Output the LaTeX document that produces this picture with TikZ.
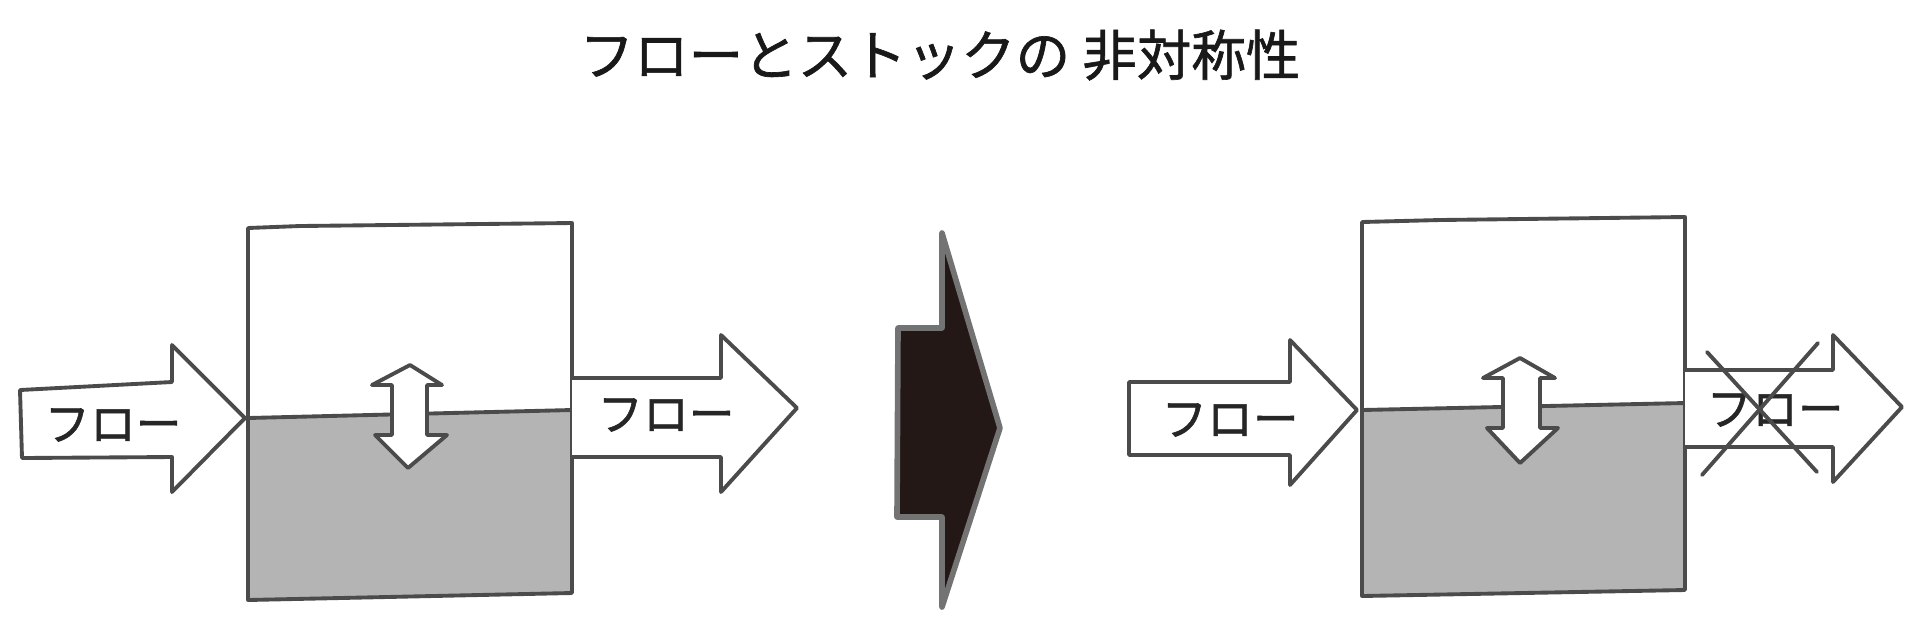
\documentclass[tikz,border=0pt]{standalone}
\usepackage{fontspec}
\newfontfamily\jpfont{Noto Sans CJK JP}
\newfontfamily\jpheavy[FakeBold=1.2]{Noto Sans CJK JP}

\definecolor{inkgray}{RGB}{75,75,75}
\definecolor{stockgray}{RGB}{180,180,180}
\definecolor{inkblack}{RGB}{35,24,21}

\begin{document}
\begin{tikzpicture}[
    x=0.01cm, y=-0.01cm,
    outline/.style={draw=inkgray, line width=1.1pt, line join=round},
    stock/.style={fill=stockgray},
    flow/.style={outline, fill=white},
    bigarrow/.style={draw=black!55, line width=1.6pt, fill=inkblack, line join=round},
    flowtext/.style={font=\jpheavy\fontsize{13}{15}\selectfont, text=black!85},
    titletext/.style={font=\jpheavy\fontsize{15.5}{18}\selectfont, text=black!90}
  ]
    \useasboundingbox (0,0) rectangle (1920,629);

    % Title
    \node[titletext] (title) at (940, 55) {フローとストックの 非対称性};

    % Left: stock box
    \path[stock] (248,418) -- (572,410) -- (572,593) -- (248,600) -- cycle;
    \draw[outline] (248,228) -- (300,226) -- (572,223) -- (572,593) -- (248,600) -- cycle;
    \draw[outline] (248,418) -- (572,410);
    \draw[flow] (410,365) -- (442,385) -- (427,385) -- (427,435) -- (447,435)
      -- (408,468) -- (375,435) -- (392,435) -- (392,385) -- (372,385) -- cycle;

    % Left: inflow
    \draw[flow] (20,390) -- (172,382) -- (172,345) -- (245,418) -- (172,492)
      -- (172,457) -- (22,458) -- cycle;
    \node[flowtext] (inL) at (113, 425) {フロー};

    % Left: outflow
    \draw[flow] (572,378) -- (721,378) -- (721,335) -- (797,408) -- (721,492)
      -- (721,457) -- (572,457);
    \node[flowtext] (outL) at (666, 415) {フロー};

    % Middle arrow
    \draw[bigarrow] (898,328) -- (942,328) -- (942,233) -- (1000,428) -- (942,607)
      -- (942,517) -- (897,517) -- cycle;

    % Right: stock box
    \path[stock] (1362,410) -- (1685,403) -- (1685,590) -- (1362,596) -- cycle;
    \draw[outline] (1362,222) -- (1440,220) -- (1685,217) -- (1685,590) -- (1362,596) -- cycle;
    \draw[outline] (1362,410) -- (1685,403);
    \draw[flow] (1520,358) -- (1555,378) -- (1540,378) -- (1540,428) -- (1558,428)
      -- (1520,463) -- (1487,428) -- (1503,428) -- (1503,378) -- (1483,378) -- cycle;

    % Right: inflow
    \draw[flow] (1129,382) -- (1290,382) -- (1290,340) -- (1357,410) -- (1290,485)
      -- (1290,455) -- (1129,455) -- cycle;
    \node[flowtext] (inR) at (1230, 420) {フロー};

    % Right: outflow, crossed out
    \draw[flow] (1685,370) -- (1833,370) -- (1833,335) -- (1902,407) -- (1833,482)
      -- (1833,447) -- (1685,447);
    \node[flowtext] (outR) at (1775, 410) {フロー};
    \coordinate (xa) at (1707,352);
    \coordinate (xb) at (1817,472);
    \coordinate (xc) at (1818,343);
    \coordinate (xd) at (1702,475);
    \draw[outline, line cap=round] (xa) -- (xb);
    \draw[outline, line cap=round] (xc) -- (xd);

\end{tikzpicture}
\end{document}
